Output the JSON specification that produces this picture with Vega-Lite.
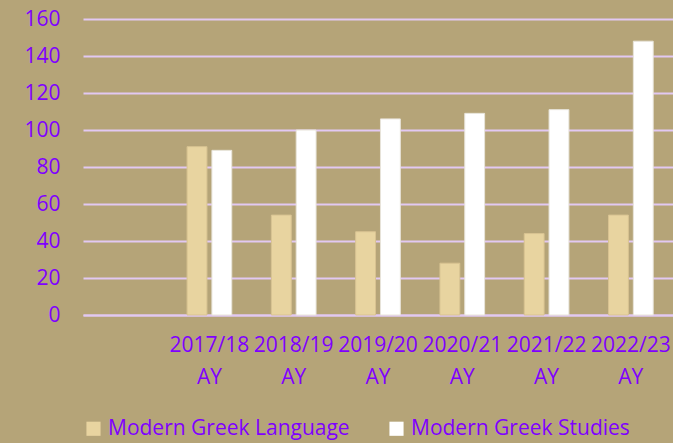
{
  "$schema": "https://vega.github.io/schema/vega-lite/v6.json",
  "width": 590,
  "height": 296,
  "autosize": "none",
  "padding": {"left": 83, "top": 19, "right": 0, "bottom": 128},
  "background": "#B5A478",
  "data": {
    "values": [
      {"year": "2017/18 AY", "series": "Modern Greek Language", "value": 91},
      {"year": "2017/18 AY", "series": "Modern Greek Studies", "value": 89},
      {"year": "2018/19 AY", "series": "Modern Greek Language", "value": 54},
      {"year": "2018/19 AY", "series": "Modern Greek Studies", "value": 100},
      {"year": "2019/20 AY", "series": "Modern Greek Language", "value": 45},
      {"year": "2019/20 AY", "series": "Modern Greek Studies", "value": 106},
      {"year": "2020/21 AY", "series": "Modern Greek Language", "value": 28},
      {"year": "2020/21 AY", "series": "Modern Greek Studies", "value": 109},
      {"year": "2021/22 AY", "series": "Modern Greek Language", "value": 44},
      {"year": "2021/22 AY", "series": "Modern Greek Studies", "value": 111},
      {"year": "2022/23 AY", "series": "Modern Greek Language", "value": 54},
      {"year": "2022/23 AY", "series": "Modern Greek Studies", "value": 148}
    ]
  },
  "mark": {"type": "bar", "strokeWidth": 1},
  "encoding": {
    "x": {
      "field": "year",
      "type": "nominal",
      "sort": null,
      "scale": {
        "domain": ["", "2017/18 AY", "2018/19 AY", "2019/20 AY", "2020/21 AY", "2021/22 AY", "2022/23 AY"],
        "paddingInner": 0.47,
        "paddingOuter": 0.235
      },
      "axis": {
        "title": null,
        "labelAngle": 0,
        "labelExpr": "split(datum.label, ' ')",
        "labelFont": "Open Sans",
        "labelFontSize": 21,
        "labelColor": "#7F00FF",
        "labelLineHeight": 32,
        "labelPadding": 19,
        "ticks": false,
        "domain": true,
        "domainColor": "#E2C8F2",
        "domainWidth": 2,
        "grid": false
      }
    },
    "xOffset": {
      "field": "series",
      "type": "nominal",
      "scale": {"paddingInner": 0.2}
    },
    "y": {
      "field": "value",
      "type": "quantitative",
      "scale": {"domain": [0, 160]},
      "axis": {
        "title": null,
        "values": [0, 20, 40, 60, 80, 100, 120, 140, 160],
        "labelFont": "Open Sans",
        "labelFontSize": 21,
        "labelColor": "#7F00FF",
        "labelPadding": 23,
        "ticks": false,
        "domain": false,
        "grid": true,
        "gridColor": "#E2C8F2",
        "gridWidth": 2
      }
    },
    "color": {
      "field": "series",
      "type": "nominal",
      "scale": {
        "domain": ["Modern Greek Language", "Modern Greek Studies"],
        "range": ["#E8D4A0", "#FFFFFF"]
      },
      "legend": {
        "title": null,
        "orient": "bottom",
        "direction": "horizontal",
        "symbolType": "square",
        "symbolSize": 200,
        "symbolStrokeWidth": 0,
        "labelFont": "Open Sans",
        "labelFontSize": 21,
        "labelColor": "#7F00FF",
        "columnPadding": 36,
        "offset": 31,
        "padding": 0,
        "labelLimit": 400
      }
    },
    "stroke": {
      "field": "series",
      "type": "nominal",
      "scale": {
        "domain": ["Modern Greek Language", "Modern Greek Studies"],
        "range": ["#D8C392", "#E8E4DA"]
      },
      "legend": null
    }
  },
  "config": {
    "view": {"stroke": null}
  }
}
